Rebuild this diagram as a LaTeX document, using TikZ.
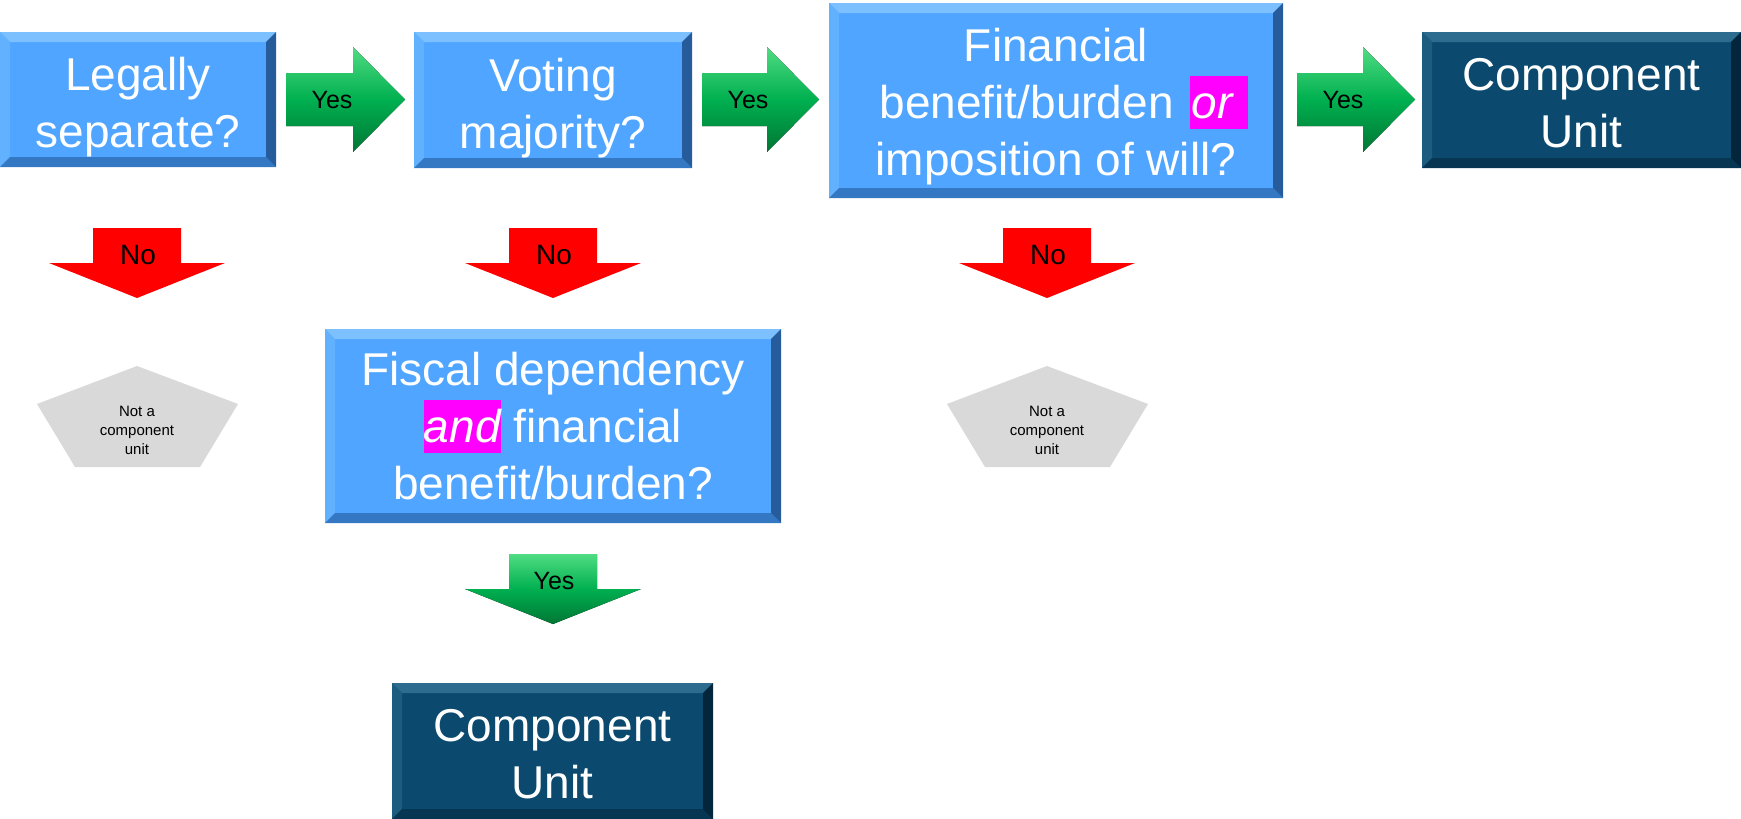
\documentclass[tikz,border=0pt]{standalone}
\usepackage{fontspec}
\setmainfont{Liberation Sans}
\usetikzlibrary{calc}

% palette
\definecolor{qblue}{RGB}{79,165,255}
\definecolor{qbluetop}{RGB}{125,192,255}
\definecolor{qblueleft}{RGB}{98,177,255}
\definecolor{qbluebot}{RGB}{52,120,196}
\definecolor{qblueright}{RGB}{38,92,156}
\definecolor{cunavy}{RGB}{11,74,110}
\definecolor{cunavytop}{RGB}{45,108,142}
\definecolor{cunavyleft}{RGB}{28,92,126}
\definecolor{cunavybot}{RGB}{7,54,82}
\definecolor{cunavyright}{RGB}{4,38,60}
\definecolor{okgreen}{RGB}{0,176,80}
\definecolor{okgreenlt}{RGB}{80,220,130}
\definecolor{okgreendk}{RGB}{0,118,52}
\definecolor{stopred}{RGB}{255,0,0}
\definecolor{endgrey}{RGB}{217,217,217}
\definecolor{hilite}{RGB}{255,0,255}

% magenta highlight behind an italic word (#1 = left padding, #2 = right padding)
\newcommand\hl[3]{{\setlength{\fboxsep}{0pt}\colorbox{hilite}{\hspace{#1}\rule[-5.5pt]{0pt}{26.5pt}\itshape #3\hspace{#2}}}}

% bevelled edges of a box node: top, left, bottom, right colours
\newcommand\bevel[5]{%
  \fill[#2] (#1.north west) -- (#1.north east) -- ($(#1.north east)+(-10,10)$) -- ($(#1.north west)+(10,10)$) -- cycle;
  \fill[#3] (#1.north west) -- ($(#1.north west)+(10,10)$) -- ($(#1.south west)+(10,-10)$) -- (#1.south west) -- cycle;
  \fill[#4] (#1.south west) -- ($(#1.south west)+(10,-10)$) -- ($(#1.south east)+(-10,-10)$) -- (#1.south east) -- cycle;
  \fill[#5] (#1.south east) -- ($(#1.south east)+(-10,-10)$) -- ($(#1.north east)+(-10,10)$) -- (#1.north east) -- cycle;
}

% green block arrow pointing right: label name, left x, tip x
\newcommand\yesright[3]{%
  \fill[greenarrow] (#2,73) -- (#3-52,73) -- (#3-52,47) -- (#3,99.5) -- (#3-52,152) -- (#3-52,126) -- (#2,126) -- cycle;
  \node[tag] (#1) at (#2+46,100) {Yes};
}

% block arrow pointing down: fill style, label name, centre x, top y, label style, label
\newcommand\droparrow[6]{%
  \fill[#1] (#3-44,#4) -- (#3+44,#4) -- (#3+44,#4+35) -- (#3+88,#4+35) -- (#3,#4+70) -- (#3-88,#4+35) -- (#3-44,#4+35) -- cycle;
  \node[#5] (#2) at (#3+1,#4+27) {#6};
}

% grey end shape: name, centre x
\newcommand\stopshape[2]{%
  \fill[endshape] (#2,366) -- (#2+101,404) -- (#2+63,467) -- (#2-62,467) -- (#2-100,404) -- cycle;
  \node[endtext] (#1) at (#2,430) {Not a\\component\\unit};
}

\tikzset{
  qbox/.style={fill=qblue, inner sep=0pt, outer sep=0pt},
  cubox/.style={qbox, fill=cunavy},
  boxtext/.style={text=white, inner sep=0pt, align=center, font=\fontsize{23}{28.5}\selectfont},
  tag/.style={text=black, inner sep=0pt, font=\fontsize{12.5}{15}\selectfont},
  notag/.style={text=black, inner sep=0pt, font=\fontsize{14}{16}\selectfont},
  endtext/.style={text=black, align=center, inner sep=0pt, font=\fontsize{7.5}{9.5}\selectfont},
  greenarrow/.style={top color=okgreenlt, bottom color=okgreendk, middle color=okgreen},
  redarrow/.style={fill=stopred},
  endshape/.style={fill=endgrey},
}

\begin{document}
\begin{tikzpicture}[x=0.5pt,y=-0.5pt]
\useasboundingbox (0,0) rectangle (1741,819);

% decision and outcome boxes
\node[qbox, minimum width=138pt, minimum height=67.5pt] (b1) at (138,99.5) {};
\node[qbox, minimum width=139pt, minimum height=68pt] (b2) at (553,100) {};
\node[qbox, minimum width=227pt, minimum height=97.5pt] (b3) at (1056,100.5) {};
\node[cubox, minimum width=159.5pt, minimum height=68pt] (b4) at (1581.5,100) {};
\node[qbox, minimum width=228pt, minimum height=97pt] (b5) at (553,426) {};
\node[cubox, minimum width=160.5pt, minimum height=68pt] (b6) at (552.5,751) {};

\bevel{b1}{qbluetop}{qblueleft}{qbluebot}{qblueright}
\bevel{b2}{qbluetop}{qblueleft}{qbluebot}{qblueright}
\bevel{b3}{qbluetop}{qblueleft}{qbluebot}{qblueright}
\bevel{b5}{qbluetop}{qblueleft}{qbluebot}{qblueright}
\bevel{b4}{cunavytop}{cunavyleft}{cunavybot}{cunavyright}
\bevel{b6}{cunavytop}{cunavyleft}{cunavybot}{cunavyright}

% box captions
\node[boxtext] (t1) at ($(b1.center)+(0,8)$) {Legally\\separate?};
\node[boxtext] (t2) at ($(b2.center)+(0,8)$) {Voting\\majority?};
\node[boxtext] (t3) at ($(b3.center)+(0,6)$)
  {Financial\\\hspace*{8pt}benefit/burden\hspace{1.5pt} \hl{1pt}{8pt}{or}\\imposition of will?};
\node[boxtext] (t4) at ($(b4.center)+(0,3)$) {Component\\Unit};
\node[boxtext] (t5) at (b5.center)
  {Fiscal dependency\\\hl{0pt}{0pt}{and} financial\\benefit/burden?};
\node[boxtext] (t6) at ($(b6.center)+(0,3)$) {Component\\Unit};

% yes arrows along the top row
\yesright{y1}{286}{405}
\yesright{y2}{702}{819}
\yesright{y3}{1297}{1415}

% no arrows and the yes arrow below the fiscal test
\droparrow{redarrow}{n1}{137}{228}{notag}{No}
\droparrow{redarrow}{n2}{553}{228}{notag}{No}
\droparrow{redarrow}{n3}{1047}{228}{notag}{No}
\droparrow{greenarrow}{y4}{553}{554}{tag}{Yes}

% outcomes that are not component units
\stopshape{e1}{137}
\stopshape{e3}{1047}
\end{tikzpicture}
\end{document}
